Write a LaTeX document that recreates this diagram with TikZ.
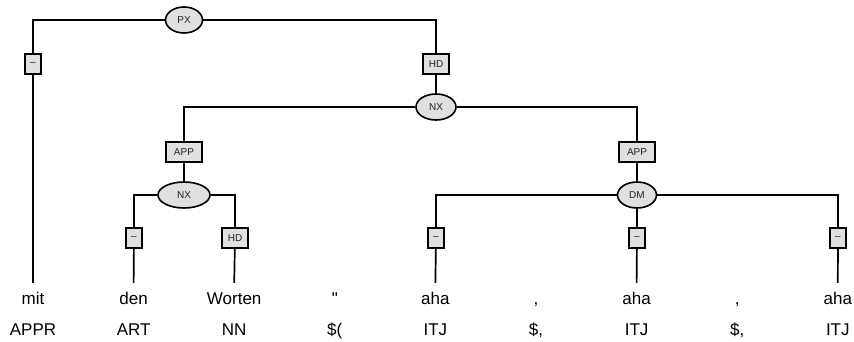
\documentclass[tikz,border=0pt]{standalone}
\usepackage{fontspec}
\setmainfont{Liberation Sans}[Ligatures=TeXOff]
\usetikzlibrary{shapes.geometric}
\definecolor{nodegray}{HTML}{E0E0E0}
\definecolor{labelgray}{HTML}{202020}
\begin{document}
\begin{tikzpicture}[x=1pt,y=-1pt,
  cat/.style={ellipse,draw=black,line width=1.6pt,fill=nodegray,inner sep=0pt,minimum height=26pt,text=labelgray,font=\fontsize{10}{11}\selectfont},
  edgebox/.style={rectangle,draw=black,line width=1.6pt,fill=nodegray,inner sep=0pt,minimum height=20pt,text=labelgray,font=\fontsize{10}{11}\selectfont},
  word/.style={inner sep=0pt,text height=21pt,text depth=4pt,font=\fontsize{17}{19}\selectfont},
  tag/.style={inner sep=0pt,font=\fontsize{17}{19}\selectfont},
  conn/.style={draw=black,line width=1.7pt}]
\useasboundingbox (0,0) rectangle (854,342);
% words and tags
\foreach \i/\w/\t in {1/mit/APPR,2/den/ART,3/Worten/NN,4/{"}/{\$(},5/aha/ITJ,6/{,}/{\$,},7/aha/ITJ,8/{,}/{\$,},9/aha/ITJ}{
  \node[word,anchor=base] (w\i) at ({33+100.6*(\i-1)},304) {\w};
  \node[tag,anchor=base] (t\i) at ({33+100.6*(\i-1)},335) {\t};
}
% categories
\node[cat,minimum width=37pt] (px) at (184,20) {PX};
\node[cat,minimum width=40pt] (nx1) at (436,107) {NX};
\node[cat,minimum width=52pt] (nx2) at (184,195) {NX};
\node[cat,minimum width=39pt] (dm) at (637,195) {DM};
% edge labels
\node[edgebox,minimum width=16pt] (b1) at (33,64) {–};
\node[edgebox,minimum width=26pt] (hd1) at (436,64) {HD};
\node[edgebox,minimum width=36pt] (app1) at (184,152) {APP};
\node[edgebox,minimum width=36pt] (app2) at (637,152) {APP};
\node[edgebox,minimum width=16pt] (b2) at (134,238) {–};
\node[edgebox,minimum width=26pt] (hd2) at (235,238) {HD};
\node[edgebox,minimum width=16pt] (b5) at (436,238) {–};
\node[edgebox,minimum width=16pt] (b7) at (637,238) {–};
\node[edgebox,minimum width=16pt] (b9) at (838,238) {–};
% connectors
\draw[conn] (px) -| (b1);
\draw[conn] (px) -| (hd1);
\draw[conn] (hd1) -- (nx1);
\draw[conn] (nx1) -| (app1);
\draw[conn] (nx1) -| (app2);
\draw[conn] (app1) -- (nx2);
\draw[conn] (app2) -- (dm);
\draw[conn] (nx2) -| (b2);
\draw[conn] (nx2) -| (hd2);
\draw[conn] (dm) -| (b5);
\draw[conn] (dm) -- (b7);
\draw[conn] (dm) -| (b9);
\draw[conn] (b1) -- (w1.north);
\draw[conn] (b2) -- (w2.north);
\draw[conn] (hd2) -- (w3.north);
\draw[conn] (b5) -- (w5.north);
\draw[conn] (b7) -- (w7.north);
\draw[conn] (b9) -- (w9.north);
\end{tikzpicture}
\end{document}
